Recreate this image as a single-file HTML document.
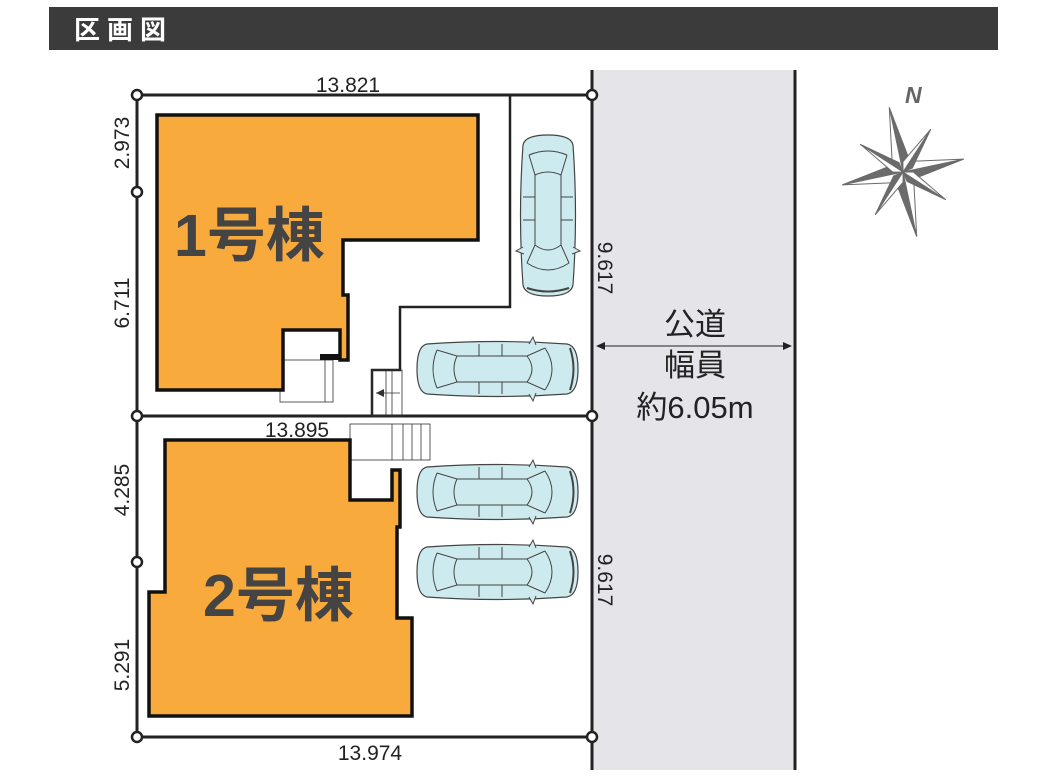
<!DOCTYPE html>
<html><head><meta charset="utf-8"><style>
html,body{margin:0;padding:0;background:#fff;}
body{width:1046px;height:784px;overflow:hidden;position:relative;}
svg{position:absolute;left:0;top:0;}
text{font-family:"Liberation Sans","Noto Sans CJK JP",sans-serif;}
</style></head><body>
<svg width="1046" height="784" viewBox="0 0 1046 784" xmlns="http://www.w3.org/2000/svg">
<defs>
<g id="car">
  <path d="M10,4 Q80,-1 150,4 Q161,6 161,29 Q161,52 150,54 Q80,59 10,54 Q0,52 0,29 Q0,6 10,4 Z" fill="#cdebee" stroke="#444" stroke-width="1.2"/>
  <path d="M20,10 Q12,29 20,48" fill="none" stroke="#444" stroke-width="1"/>
  <path d="M20,10 L40,16 L110,16 L128,8" fill="none" stroke="#444" stroke-width="1"/>
  <path d="M20,48 L40,42 L110,42 L128,50" fill="none" stroke="#444" stroke-width="1"/>
  <path d="M40,16 Q34,29 40,42" fill="none" stroke="#444" stroke-width="1"/>
  <path d="M110,16 Q120,29 110,42" fill="none" stroke="#444" stroke-width="1"/>
  <path d="M128,8 Q142,29 128,50" fill="none" stroke="#444" stroke-width="1"/>
  <path d="M62,4 V16 M85,4 V16 M62,42 V54 M85,42 V54" stroke="#444" stroke-width="1"/>
  <path d="M112,4 L116,-3 L119,5 M112,54 L116,61 L119,53" fill="#cdebee" stroke="#444" stroke-width="1"/>
  <path d="M153,8 Q160,29 153,50" fill="none" stroke="#444" stroke-width="2"/>
</g>
</defs>
<rect x="49" y="7" width="949" height="43" fill="#3b3b3b"/>
<text x="74" y="39" font-size="26" font-weight="bold" fill="#fff" letter-spacing="7">区画図</text>
<rect x="592" y="70" width="203" height="700" fill="#e4e4e9"/>
<line x1="592" y1="70" x2="592" y2="770" stroke="#222" stroke-width="3"/>
<line x1="795" y1="70" x2="795" y2="770" stroke="#222" stroke-width="3"/>
<line x1="598" y1="346" x2="790" y2="346" stroke="#222" stroke-width="1"/>
<path d="M596,346 l9,-4 v8z M792,346 l-9,-4 v8z" fill="#222"/>
<text x="695" y="335" font-size="31" text-anchor="middle" fill="#222">公道</text>
<text x="695" y="376" font-size="31" text-anchor="middle" fill="#222">幅員</text>
<text x="695" y="418" font-size="31" text-anchor="middle" fill="#222">約6.05m</text>
<g stroke="#222" stroke-width="3" fill="none">
<line x1="137" y1="95" x2="592" y2="95"/>
<line x1="137" y1="416" x2="592" y2="416"/>
<line x1="137" y1="737" x2="592" y2="737"/>
<line x1="137" y1="95" x2="137" y2="737"/>
</g>
<path d="M510,95 V307 H400 V370 H372 V416" fill="none" stroke="#222" stroke-width="2.5"/>
<g stroke="#333" stroke-width="0.8" fill="none">
<rect x="372" y="370" width="30" height="46"/>
<line x1="386" y1="370" x2="386" y2="416"/>
<line x1="392" y1="370" x2="392" y2="416"/>
<line x1="376" y1="393" x2="400" y2="393"/>
<rect x="280" y="360" width="53" height="42"/>
<line x1="325" y1="360" x2="325" y2="402"/>
<rect x="350" y="424" width="80" height="36"/>
<line x1="392" y1="424" x2="392" y2="460"/>
<line x1="403" y1="424" x2="403" y2="460"/>
<line x1="412" y1="424" x2="412" y2="460"/>
<line x1="421" y1="424" x2="421" y2="460"/>
</g>
<path d="M376,393 l8,-4 v8z" fill="#333"/>
<path d="M157,115 H478 V240 H343 V295 H348 V360 H340 V330 H283 V390 H157 Z" fill="#f9aa3c" stroke="#111" stroke-width="3.5"/>
<rect x="320" y="354" width="20" height="6" fill="#111"/>
<path d="M165,440 H350 V500 H392 V470 H400 V527 H397 V618 H412 V716 H149 V592 H165 Z" fill="#f9aa3c" stroke="#111" stroke-width="3.5"/>
<text x="174" y="256" font-size="59" font-weight="bold" fill="#444">1号棟</text>
<text x="203" y="616" font-size="59" font-weight="bold" fill="#444">2号棟</text>
<use href="#car" transform="translate(577,135) rotate(90)"/>
<use href="#car" transform="translate(417,340)"/>
<use href="#car" transform="translate(417,463)"/>
<use href="#car" transform="translate(417,543)"/>
<g fill="#fff" stroke="#222" stroke-width="2.5">
<circle cx="137" cy="95" r="5"/><circle cx="592" cy="95" r="5"/>
<circle cx="137" cy="192" r="5"/>
<circle cx="137" cy="416" r="5"/><circle cx="592" cy="416" r="5"/>
<circle cx="137" cy="562" r="5"/>
<circle cx="137" cy="737" r="5"/><circle cx="592" cy="737" r="5"/>
</g>
<g font-size="21" fill="#222">
<text x="348" y="92" text-anchor="middle">13.821</text>
<text x="297" y="437" text-anchor="middle">13.895</text>
<text x="370" y="760" text-anchor="middle">13.974</text>
<text transform="translate(129,143) rotate(-90)" text-anchor="middle">2.973</text>
<text transform="translate(129,303) rotate(-90)" text-anchor="middle">6.711</text>
<text transform="translate(129,490) rotate(-90)" text-anchor="middle">4.285</text>
<text transform="translate(129,665) rotate(-90)" text-anchor="middle">5.291</text>
<text transform="translate(598,268) rotate(90)" text-anchor="middle">9.617</text>
<text transform="translate(598,580) rotate(90)" text-anchor="middle">9.617</text>
</g>
<text x="905" y="103" font-size="23" font-weight="bold" font-style="italic" fill="#666">N</text>
<g transform="translate(903,172) rotate(-12)" fill="#6b6b6b" stroke="#6b6b6b" stroke-width="1">
<path d="M0,-66 L9,-9 L0,0 Z"/><path d="M0,-66 L-9,-9 L0,0 Z" fill="#fff"/>
<path d="M0,66 L-9,9 L0,0 Z"/><path d="M0,66 L9,9 L0,0 Z" fill="#fff"/>
<path d="M-62,0 L-9,-9 L0,0 Z"/><path d="M-62,0 L-9,9 L0,0 Z" fill="#fff"/>
<path d="M62,0 L9,9 L0,0 Z"/><path d="M62,0 L9,-9 L0,0 Z" fill="#fff"/>
<path d="M-36,-36 L-2,-10 L0,0 Z"/><path d="M-36,-36 L-10,-2 L0,0 Z" fill="#fff"/>
<path d="M36,-36 L10,-2 L0,0 Z"/><path d="M36,-36 L2,-10 L0,0 Z" fill="#fff"/>
<path d="M36,36 L2,10 L0,0 Z"/><path d="M36,36 L10,2 L0,0 Z" fill="#fff"/>
<path d="M-36,36 L-10,2 L0,0 Z"/><path d="M-36,36 L-2,10 L0,0 Z" fill="#fff"/>
</g>
</svg>
</body></html>
